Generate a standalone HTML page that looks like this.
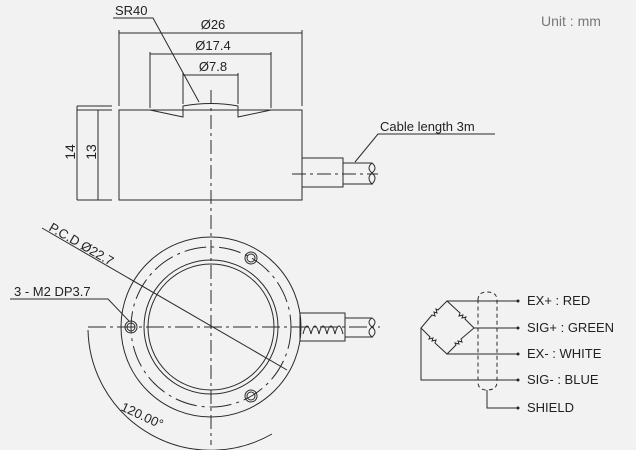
<!DOCTYPE html>
<html><head><style>body{margin:0;background:#f2f2f2}svg{display:block}</style></head><body>
<svg width="636" height="450" viewBox="0 0 636 450" xmlns="http://www.w3.org/2000/svg" font-family="Liberation Sans, sans-serif" font-size="13" fill="none" stroke="#2a2a2a" stroke-width="1">
<rect width="636" height="450" fill="#f2f2f2" stroke="none"/>
<text x="541" y="26" fill="#777" stroke="none" font-size="14">Unit : mm</text>
<!-- side view -->
<rect x="119" y="110" width="183" height="90"/>
<path d="M150 110 L183 117 L183 106 Q211 101 238 106 L238 117 L271 110"/>
<line x1="211" y1="90" x2="211" y2="215" stroke-dasharray="14,4,3,4"/>
<line x1="77" y1="106" x2="112" y2="106"/><line x1="77" y1="110" x2="112" y2="110"/>
<line x1="77" y1="200" x2="112" y2="200"/>
<line x1="77" y1="106" x2="77" y2="200"/><line x1="98" y1="110" x2="98" y2="200"/>
<text transform="translate(75,152) rotate(-90)" fill="#222" stroke="none" text-anchor="middle" font-size="14">14</text>
<text transform="translate(96,152) rotate(-90)" fill="#222" stroke="none" text-anchor="middle" font-size="14">13</text>
<line x1="119" y1="30" x2="119" y2="106"/><line x1="302" y1="30" x2="302" y2="106"/>
<line x1="119" y1="33" x2="302" y2="33"/><text x="213" y="29" fill="#222" stroke="none" text-anchor="middle">Ø26</text>
<line x1="150" y1="52" x2="150" y2="108"/><line x1="271" y1="52" x2="271" y2="108"/>
<line x1="150" y1="54" x2="271" y2="54"/><text x="213" y="50" fill="#222" stroke="none" text-anchor="middle">Ø17.4</text>
<line x1="183" y1="73" x2="183" y2="104"/><line x1="238" y1="73" x2="238" y2="104"/>
<line x1="183" y1="75" x2="238" y2="75"/><text x="213" y="71" fill="#222" stroke="none" text-anchor="middle">Ø7.8</text>
<text x="115" y="15" fill="#222" stroke="none">SR40</text>
<path d="M113 18 L153 18 L199 102"/>
<rect x="302" y="158" width="41" height="29"/>
<path d="M343 163 L372 163 Q378 168 372 173 Q366 178 372 184 L343 184 M372 163 Q366 168 372 173 Q378 178 372 184"/>
<line x1="292" y1="174" x2="378" y2="174" stroke-dasharray="14,4,3,4"/>
<text x="380" y="131" fill="#222" stroke="none">Cable length 3m</text>
<path d="M495 134 L378 134 L355 162"/>
<!-- bottom view -->
<circle cx="211" cy="327" r="90"/>
<circle cx="211" cy="327" r="67"/><circle cx="211" cy="327" r="63"/>
<circle cx="211" cy="327" r="80" stroke-dasharray="22,5,3,5"/>
<line x1="88" y1="327" x2="380" y2="327" stroke-dasharray="18,4,3,4"/>
<line x1="211" y1="215" x2="211" y2="445" stroke-dasharray="14,4,3,4"/>
<circle cx="131" cy="327" r="6"/><circle cx="131" cy="327" r="4"/>
<circle cx="251" cy="258" r="6"/><circle cx="251" cy="258" r="4"/>
<circle cx="251" cy="396" r="6"/><circle cx="251" cy="396" r="4"/>
<line x1="42" y1="228" x2="287" y2="370"/>
<text transform="translate(48,230) rotate(30)" fill="#222" stroke="none">P.C.D Ø22.7</text>
<text x="14" y="296" fill="#222" stroke="none">3 - M2 DP3.7</text>
<path d="M10 299 L108 299 L129 321"/>
<path d="M88 330 A123 123 0 0 0 272 434"/>
<text transform="translate(120,410) rotate(25)" fill="#222" stroke="none">120.00°</text>
<rect x="300" y="313" width="45" height="28"/>
<path d="M303 334 Q307 318 311 334 Q315 318 319 334 Q323 318 327 334 Q331 318 335 334 Q339 318 343 334"/>
<path d="M345 318 L372 318 Q378 322 372 327 Q366 332 372 337 L345 337 M372 318 Q366 322 372 327 Q378 332 372 337"/>
<!-- wiring -->
<path d="M447 301 L438 310 l-2 -1 l1 4 l-3 -1 l1 4 l-3 -1 L421 328 L430 337 l-1 2 l4 -1 l-1 3 l4 -1 l-1 3 L447 354 L456 345 l-1 -2 l4 1 l-1 -3 l4 1 l-1 -3 L474 328 L465 319 l1 -2 l-4 1 l1 -3 l-4 1 l1 -3 Z"/>
<path d="M447 301 L518 301 M474 328 L518 328 M447 354 L518 354 M421 328 L421 380 L518 380 M487 390 L487 408 L518 408"/>
<path d="M478 300 Q478 292 487 292 Q497 292 497 300 L497 382 Q497 390 487 390 Q478 390 478 382 Z" stroke-dasharray="4,3"/>
<g fill="#222" stroke="none"><circle cx="518" cy="301" r="1.5"/><circle cx="518" cy="328" r="1.5"/><circle cx="518" cy="354" r="1.5"/><circle cx="518" cy="380" r="1.5"/><circle cx="518" cy="408" r="1.5"/>
<text x="527" y="305">EX+ : RED</text><text x="527" y="332">SIG+ : GREEN</text><text x="527" y="358">EX- : WHITE</text><text x="527" y="384">SIG- : BLUE</text><text x="527" y="412">SHIELD</text></g>
</svg>
</body></html>
